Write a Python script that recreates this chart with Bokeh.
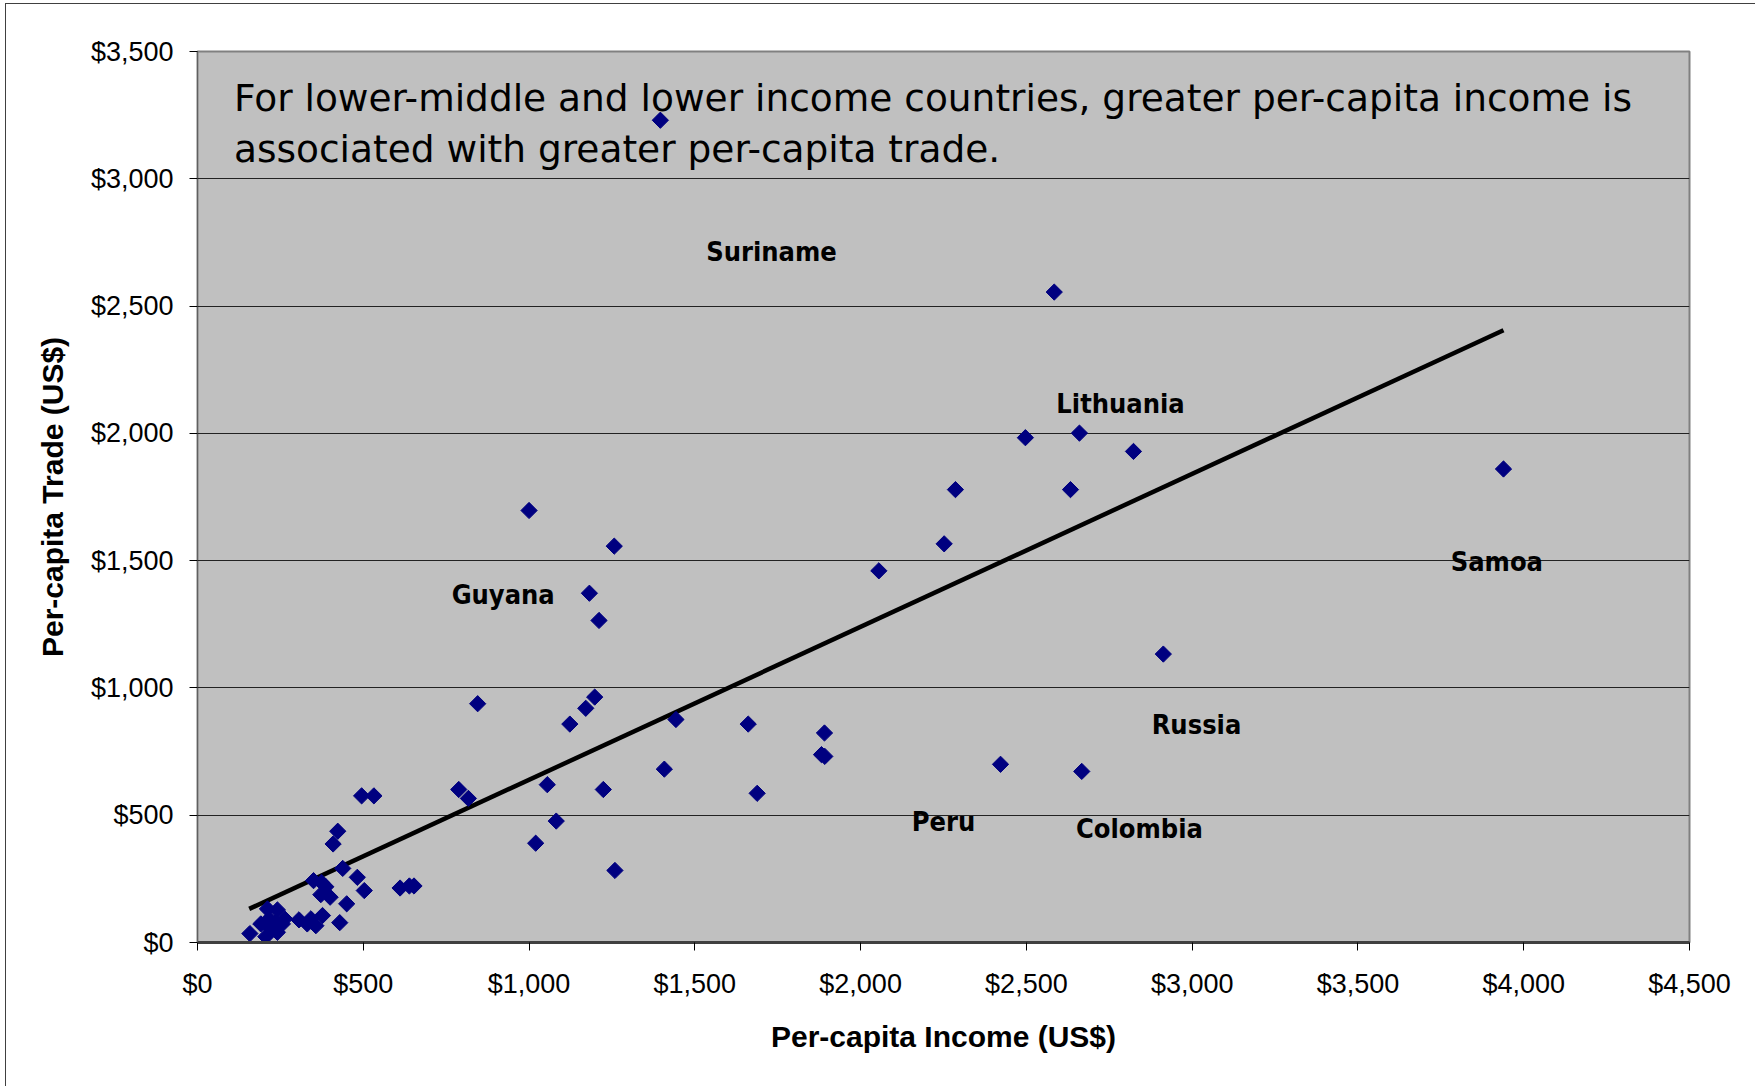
from bokeh.plotting import figure
from bokeh.models import FixedTicker, NumeralTickFormatter, ColumnDataSource
from bokeh.core.properties import value
from bokeh.embed import file_html
from bokeh.resources import INLINE

# ---- data ----
income = [158, 206, 211, 241, 191, 216, 236, 256, 241, 221, 263, 306, 331, 357, 377, 342,
          429, 450, 372, 400, 350, 374, 387, 438, 482, 503, 423, 409, 495, 532, 611, 639,
          653, 788, 817, 845, 1000, 1020, 1055, 1082, 1123, 1171, 1198, 1182, 1211, 1224,
          1257, 1259, 1396, 1408, 1443, 1661, 1688, 1891, 1882, 1892, 2055, 2252, 2286,
          2422, 2497, 2584, 2633, 2660, 2667, 2823, 2913, 3939]
trade = [35, 23, 132, 128, 73, 93, 79, 73, 40, 53, 93, 89, 73, 66, 106, 93,
         78, 152, 188, 178, 243, 236, 219, 291, 256, 204, 437, 387, 576, 576, 214, 222,
         222, 601, 566, 938, 1697, 390, 620, 477, 858, 920, 964, 1372, 1265, 601,
         1557, 283, 3230, 681, 876, 858, 586, 823, 738, 731, 1460, 1566, 1779,
         700, 1983, 2555, 1779, 2001, 672, 1929, 1133, 1860]

trend_x = [156, 3939]
trend_y = [132, 2405]

country_labels = ["Suriname", "Lithuania", "Guyana", "Samoa", "Russia", "Peru", "Colombia"]
label_x = [1731, 2784, 922, 3919, 3013, 2250, 2841]
label_y = [2716, 2119, 1368, 1495, 858, 475, 449]

note_lines = ["For lower-middle and lower income countries, greater per-capita income is",
              "associated with greater per-capita trade."]
note_x = [110, 110]
note_y = [3318, 3118]

x_ticks = [0, 500, 1000, 1500, 2000, 2500, 3000, 3500, 4000, 4500]
y_ticks = [0, 500, 1000, 1500, 2000, 2500, 3000, 3500]

x_title = "Per-capita Income (US$)"
y_title = "Per-capita Trade (US$)"

# ---- figure ----
p = figure(width=1750, height=1083, output_backend="svg", toolbar_location=None,
           x_range=(0, 4500), y_range=(0, 3500),
           min_border_left=191, min_border_right=67, min_border_top=47, min_border_bottom=145)
p.margin = (3, 0, 0, 5)
p.styles = {"border-left": "1px solid #404040", "border-top": "1px solid #404040"}

p.background_fill_color = "#C0C0C0"
p.border_fill_color = "white"
p.outline_line_color = "#808080"
p.outline_line_width = 2

p.xgrid.grid_line_color = None
p.ygrid.grid_line_color = "#222222"
p.ygrid.grid_line_width = 1
p.ygrid.ticker = FixedTicker(ticks=y_ticks[1:-1])

p.xaxis.ticker = FixedTicker(ticks=x_ticks)
p.yaxis.ticker = FixedTicker(ticks=y_ticks)
p.xaxis.formatter = NumeralTickFormatter(format="$0,0")
p.yaxis.formatter = NumeralTickFormatter(format="$0,0")

for ax in (p.xaxis, p.yaxis):
    ax.major_label_text_font = "Liberation Sans"
    ax.major_label_text_font_size = "27px"
    ax.major_label_text_color = "black"
    ax.major_tick_line_color = "black"
    ax.major_tick_out = 8
    ax.major_tick_in = 0
    ax.minor_tick_line_color = None
    ax.axis_label_text_font = "Liberation Sans"
    ax.axis_label_text_font_style = "bold"
    ax.axis_label_text_font_size = "30px"
    ax.axis_label_text_color = "black"

p.xaxis.major_label_standoff = 18
p.yaxis.major_label_standoff = 16
p.xaxis.axis_line_color = "#404040"
p.xaxis.axis_line_width = 3
p.yaxis.axis_line_color = "#606060"
p.yaxis.axis_line_width = 1
p.xaxis.axis_label = x_title
p.yaxis.axis_label = y_title
p.xaxis.axis_label_standoff = 18
p.yaxis.axis_label_standoff = 19

# trend line
p.line(trend_x, trend_y, line_color="black", line_width=4.5)

# points
src = ColumnDataSource(dict(x=income, y=trade))
p.scatter("x", "y", source=src, marker="square", angle=0.785398, size=11.5,
          fill_color="#000080", line_color="#000080")

# country labels
lsrc = ColumnDataSource(dict(x=label_x, y=label_y, t=country_labels))
p.text("x", "y", text="t", source=lsrc, text_font=value("DejaVu Sans Condensed"),
       text_font_style="bold", text_font_size="27px", text_color="black",
       text_align="center", text_baseline="middle")

# note
nsrc = ColumnDataSource(dict(x=note_x, y=note_y, t=note_lines))
p.text("x", "y", text="t", source=nsrc, text_font=value("DejaVu Sans"),
       text_font_size="37.5px", text_color="black",
       text_align="left", text_baseline="alphabetic")

open("out.html", "w").write(file_html(p, INLINE))
